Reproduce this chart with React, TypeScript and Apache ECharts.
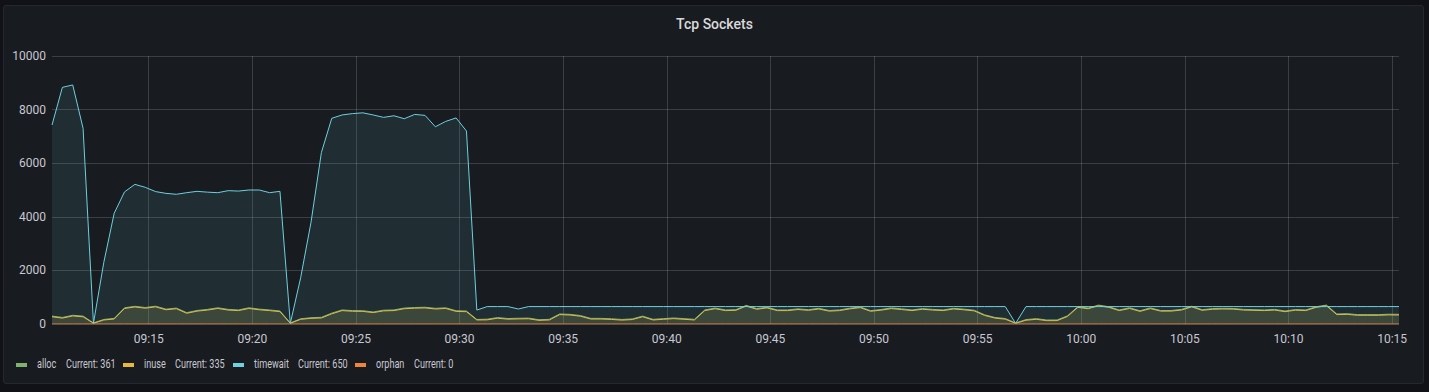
import React, { useEffect, useRef } from "react";
import * as echarts from "echarts";

const START = new Date(2024, 0, 15, 9, 10, 20).getTime();
const STEP_MS = 30 * 1000;

const seriesNames = ["alloc", "inuse", "timewait", "orphan"];
const seriesColors = ["#7EB26D", "#EAB839", "#6ED0E0", "#EF843C"];

const xTickLabels = [
  "09:15", "09:20", "09:25", "09:30", "09:35", "09:40", "09:45",
  "09:50", "09:55", "10:00", "10:05", "10:10", "10:15",
];
const yTicks = [0, 2000, 4000, 6000, 8000, 10000];

const alloc = [
  295, 245, 325, 295, 40, 170, 210, 605, 660, 615,
  665, 555, 595, 425, 505, 545, 605, 545, 525, 605,
  555, 525, 485, 40, 195, 235, 250, 405, 525, 500,
  495, 450, 515, 525, 595, 615, 625, 585, 605, 495,
  485, 170, 180, 240, 205, 215, 220, 160, 175, 375,
  360, 315, 210, 210, 195, 170, 190, 295, 175, 200,
  225, 200, 175, 525, 595, 525, 535, 695, 575, 625,
  525, 525, 565, 535, 585, 505, 525, 590, 635, 500,
  540, 600, 565, 525, 575, 545, 525, 585, 555, 515,
  345, 245, 205, 40, 165, 200, 150, 150, 305, 645,
  595, 705, 645, 525, 605, 495, 600, 505, 505, 545,
  665, 535, 575, 585, 580, 545, 535, 525, 545, 485,
  540, 525, 645, 705, 375, 385, 350, 350, 350, 365,
  361,
];

const inuse = [
  270, 220, 300, 270, 25, 150, 185, 580, 635, 590,
  640, 530, 570, 400, 480, 520, 580, 520, 500, 580,
  530, 500, 460, 25, 175, 210, 225, 380, 500, 475,
  470, 425, 490, 500, 570, 590, 600, 560, 580, 470,
  460, 150, 155, 215, 180, 190, 195, 135, 150, 350,
  335, 290, 185, 185, 170, 145, 165, 270, 150, 175,
  200, 175, 150, 500, 570, 500, 510, 670, 550, 600,
  500, 500, 540, 510, 560, 480, 500, 565, 610, 475,
  515, 575, 540, 500, 550, 520, 500, 560, 530, 490,
  320, 220, 180, 25, 140, 175, 125, 125, 280, 620,
  570, 680, 620, 500, 580, 470, 575, 480, 480, 520,
  640, 510, 550, 560, 555, 520, 510, 500, 520, 460,
  515, 500, 620, 680, 350, 360, 325, 325, 325, 340,
  335,
];

const timewait = [
  7425, 8830, 8920, 7300, 25, 2300, 4130, 4930, 5210, 5100,
  4940, 4875, 4840, 4900, 4950, 4920, 4900, 4975, 4960, 5000,
  5000, 4900, 4950, 25, 1730, 3800, 6400, 7675, 7800, 7850,
  7880, 7800, 7710, 7770, 7660, 7820, 7785, 7360, 7560, 7690,
  7200, 520, 650, 650, 650, 560, 650, 650, 650, 650,
  650, 650, 650, 650, 650, 650, 650, 650, 650, 650,
  650, 650, 650, 650, 650, 650, 650, 650, 650, 650,
  650, 650, 650, 650, 650, 650, 650, 650, 650, 650,
  650, 650, 650, 650, 650, 650, 650, 650, 650, 650,
  650, 650, 650, 25, 650, 650, 650, 650, 650, 650,
  650, 650, 650, 650, 650, 650, 650, 650, 650, 650,
  650, 650, 650, 650, 650, 650, 650, 650, 650, 650,
  650, 650, 650, 650, 650, 650, 650, 650, 650, 650,
  650,
];

const orphan = [
  0, 0, 0, 0, 0, 0, 0, 0, 0, 0,
  0, 0, 0, 0, 0, 0, 0, 0, 0, 0,
  0, 0, 0, 0, 0, 0, 0, 0, 0, 0,
  0, 0, 0, 0, 0, 0, 0, 0, 0, 0,
  0, 0, 0, 0, 0, 0, 0, 0, 0, 0,
  0, 0, 0, 0, 0, 0, 0, 0, 0, 0,
  0, 0, 0, 0, 0, 0, 0, 0, 0, 0,
  0, 0, 0, 0, 0, 0, 0, 0, 0, 0,
  0, 0, 0, 0, 0, 0, 0, 0, 0, 0,
  0, 0, 0, 0, 0, 0, 0, 0, 0, 0,
  0, 0, 0, 0, 0, 0, 0, 0, 0, 0,
  0, 0, 0, 0, 0, 0, 0, 0, 0, 0,
  0, 0, 0, 0, 0, 0, 0, 0, 0, 0,
  0,
];

const seriesValues = [alloc, inuse, timewait, orphan];
const times = timewait.map((_, i) => START + i * STEP_MS);
const xTickTimes = xTickLabels.map((s) => {
  const [h, m] = s.split(":").map(Number);
  return new Date(2024, 0, 15, h, m, 0).getTime();
});

const GRID = "rgba(204,204,220,0.2)";
const TXT = "#c8c8d2";
const FONT = "Roboto, 'Noto Sans', sans-serif";

// legend layout (positions only)
const legendLayout = [
  { marker: 16, name: 37, cur: 66 },
  { marker: 123, name: 144, cur: 175 },
  { marker: 233, name: 254, cur: 298 },
  { marker: 355, name: 376, cur: 414 },
];

const pad = (n: number) => (n < 10 ? "0" + n : "" + n);

export default function App() {
  const ref = useRef<HTMLDivElement>(null);

  useEffect(() => {
    document.body.style.margin = "0";
    const chart = echarts.init(ref.current!, null, { renderer: "svg" });

    const legendGraphics: any[] = [];
    seriesNames.forEach((name, k) => {
      const L = legendLayout[k];
      const vals = seriesValues[k];
      legendGraphics.push({
        type: "rect",
        shape: { x: L.marker, y: 363, width: 11, height: 4 },
        style: { fill: seriesColors[k] },
        silent: true,
      });
      legendGraphics.push({
        type: "text",
        x: L.name,
        y: 364,
        scaleX: 0.7,
        style: { text: name, fill: TXT, fontSize: 13, fontFamily: FONT, verticalAlign: "middle" },
        silent: true,
      });
      legendGraphics.push({
        type: "text",
        x: L.cur,
        y: 364,
        scaleX: 0.7,
        style: {
          text: "Current: " + vals[vals.length - 1],
          fill: TXT,
          fontSize: 13,
          fontFamily: FONT,
          verticalAlign: "middle",
        },
        silent: true,
      });
    });

    chart.setOption({
      animation: false,
      backgroundColor: "transparent",
      title: {
        text: "Tcp Sockets",
        left: "center",
        top: 12,
        textStyle: { color: "#d8d9da", fontSize: 14, fontWeight: 500, fontFamily: FONT },
      },
      grid: { left: 52, right: 30, top: 56, bottom: 68, containLabel: false },
      xAxis: {
        type: "value",
        min: times[0],
        max: times[times.length - 1],
        axisLine: { show: false },
        axisTick: { show: false, customValues: xTickTimes },
        splitLine: {
          show: true,
          lineStyle: { color: GRID, width: 1 },
        },
        axisLabel: {
          customValues: xTickTimes,
          color: TXT,
          fontSize: 12,
          fontFamily: FONT,
          margin: 9,
          hideOverlap: false,
          formatter: (v: number) => {
            const d = new Date(v);
            return pad(d.getHours()) + ":" + pad(d.getMinutes());
          },
        },
      },
      yAxis: {
        type: "value",
        min: yTicks[0],
        max: yTicks[yTicks.length - 1],
        interval: yTicks[1] - yTicks[0],
        axisLine: { show: false },
        axisTick: { show: false },
        splitLine: { show: true, lineStyle: { color: GRID, width: 1 } },
        axisLabel: {
          color: TXT,
          fontSize: 12,
          fontFamily: FONT,
          margin: 6,
          formatter: (v: number) => String(v),
        },
      },
      series: seriesNames.map((name, k) => ({
        name,
        type: "line",
        showSymbol: false,
        symbol: "none",
        color: seriesColors[k],
        lineStyle: { width: 1, color: seriesColors[k] },
        areaStyle: { color: seriesColors[k], opacity: 0.1 },
        data: times.map((t, i) => [t, seriesValues[k][i]]),
        z: 2 + k,
      })),
      graphic: legendGraphics,
    });

    return () => chart.dispose();
  }, []);

  return (
    <div style={{ position: "fixed", left: 0, top: 0, width: 1429, height: 392, background: "#111217" }}>
      <div
        style={{
          position: "absolute",
          left: 3,
          top: 5,
          width: 1419,
          height: 377,
          background: "#181b1f",
          border: "1px solid #25282e",
          borderRadius: 3,
        }}
      />
      <div ref={ref} style={{ position: "absolute", left: 0, top: 0, width: 1429, height: 392 }} />
    </div>
  );
}
